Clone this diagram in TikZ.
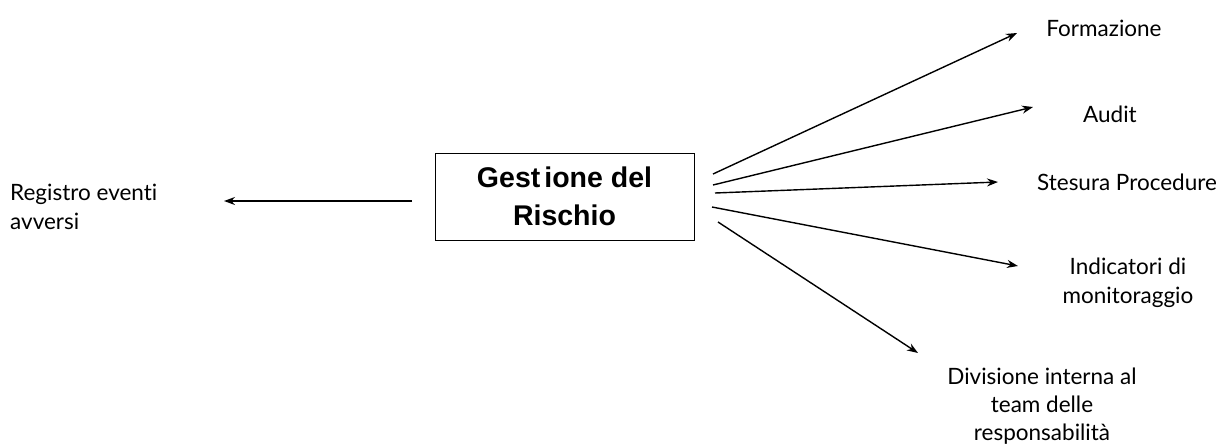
\documentclass[tikz,border=0pt]{standalone}
\usepackage{fontspec}
\setmainfont[Ligatures={NoCommon,NoContextual}]{Lato}
\newfontfamily\boxfont{Liberation Sans}
\usetikzlibrary{arrows.meta}
\begin{document}
\begin{tikzpicture}[x=1pt,y=-1pt,
  lbl/.style={font=\fontsize{22.5}{29}\selectfont, align=center, inner sep=0pt},
  conn/.style={line width=1.4pt, -{Stealth[length=11pt,width=8pt]}}]
\useasboundingbox (0,0) rectangle (1227,445);
\node[draw, line width=1pt, minimum width=259pt, minimum height=87pt, inner sep=0pt,
  font=\boxfont\bfseries\fontsize{28.5}{38}\selectfont, align=center] (box) at (564.5,196.5)
  {Gest\hspace{4pt}ione del\\Rischio};
\node[lbl, align=left, anchor=west] (reg) at (10,207) {Registro eventi\\avversi};
\node[lbl] (form) at (1104,28) {Formazione};
\node[lbl] (audit) at (1110,114) {Audit};
\node[lbl] (stes) at (1127,182) {Stesura Procedure};
\node[lbl] (ind) at (1128,283) {Indicatori di\\monitoraggio};
\node[lbl, font=\fontsize{22.5}{28}\selectfont] (div) at (1042,406) {Divisione interna al\\team delle\\responsabilità};
\coordinate (l0) at (412,201);
\coordinate (l1) at (224,201);
\coordinate (s1) at (713,174);
\coordinate (e1) at (1017,33);
\coordinate (s2) at (713,185);
\coordinate (e2) at (1033,107);
\coordinate (s3) at (715,193);
\coordinate (e3) at (998,182);
\coordinate (s4) at (712,207);
\coordinate (e4) at (1018,266);
\coordinate (s5) at (718,222);
\coordinate (e5) at (918,353);
\draw[conn] (l0) -- (l1);
\draw[conn] (s1) -- (e1);
\draw[conn] (s2) -- (e2);
\draw[conn] (s3) -- (e3);
\draw[conn] (s4) -- (e4);
\draw[conn] (s5) -- (e5);
\end{tikzpicture}
\end{document}
